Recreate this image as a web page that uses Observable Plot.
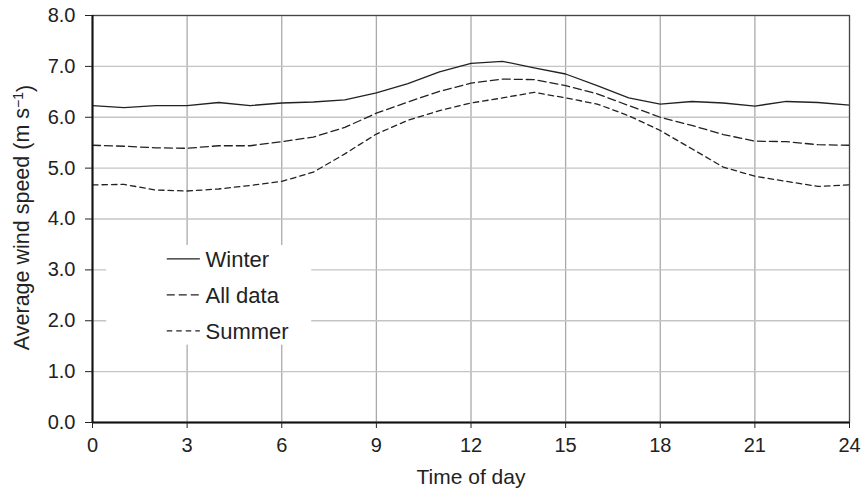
<!DOCTYPE html>
<html>
<head>
<meta charset="utf-8">
<script src="https://cdn.jsdelivr.net/npm/d3@7"></script>
<script src="https://cdn.jsdelivr.net/npm/@observablehq/plot@0.6"></script>
<style>
body { margin: 0; background: #fff; }
svg { font-family: "Liberation Sans", Arial, sans-serif; }
</style>
</head>
<body>
<div id="chart"></div>
<script>
const hours = d3.range(0, 25);
const winter = [6.23, 6.19, 6.23, 6.23, 6.29, 6.23, 6.28, 6.30, 6.34, 6.48, 6.66, 6.89, 7.06, 7.10, 6.97, 6.85, 6.62, 6.38, 6.26, 6.31, 6.28, 6.22, 6.31, 6.29, 6.24];
const allData = [5.45, 5.43, 5.40, 5.39, 5.44, 5.44, 5.52, 5.61, 5.80, 6.08, 6.30, 6.51, 6.67, 6.75, 6.74, 6.62, 6.46, 6.23, 6.00, 5.84, 5.66, 5.53, 5.52, 5.46, 5.45];
const summer = [4.67, 4.68, 4.57, 4.55, 4.59, 4.66, 4.74, 4.92, 5.28, 5.67, 5.94, 6.13, 6.28, 6.38, 6.49, 6.38, 6.26, 6.03, 5.74, 5.38, 5.02, 4.84, 4.74, 4.64, 4.67];
const seriesNames = ["Winter", "All data", "Summer"];
const xTicks = [0, 3, 6, 9, 12, 15, 18, 21, 24];
const yTicks = [0, 1, 2, 3, 4, 5, 6, 7, 8];

const dashes = {"Winter": null, "All data": "8,4", "Summer": "5.5,4"};
const series = [winter, allData, summer];
const rows = (vals, name) => hours.map((h, i) => ({hour: h, speed: vals[i], series: name}));

const plot = Plot.plot({
  width: 866,
  height: 494,
  marginLeft: 92,
  marginRight: 17,
  marginTop: 15,
  marginBottom: 72,
  style: {fontSize: "20px", fontFamily: "'Liberation Sans', Arial, sans-serif", color: "#222"},
  x: {domain: [0, 24]},
  y: {domain: [0, 8]},
  marks: [
    Plot.gridX(xTicks, {stroke: "#aaa", strokeOpacity: 1, strokeWidth: 1.3}),
    Plot.gridY(yTicks, {stroke: "#c4c4c4", strokeOpacity: 1, strokeWidth: 1.3}),
    ...series.map((vals, k) => Plot.line(rows(vals, seriesNames[k]), {
      x: "hour", y: "speed", stroke: "#222", strokeWidth: 1.3,
      strokeDasharray: dashes[seriesNames[k]]
    })),
    Plot.frame({stroke: "#444", strokeWidth: 1.2}),
    Plot.ruleX([0], {stroke: "#111", strokeWidth: 2}),
    Plot.ruleY([0], {stroke: "#111", strokeWidth: 2}),
    Plot.axisX({ticks: xTicks, tickSize: 6, tickPadding: 9, fontSize: 20, label: null}),
    Plot.axisX({ticks: [], label: "Time of day", fontSize: 21, labelAnchor: "center", labelOffset: 61, labelArrow: "none"}),
    Plot.axisY({ticks: yTicks, tickSize: 7, tickPadding: 10, fontSize: 20, tickFormat: d3.format(".1f"), label: null})
  ]
});

// Legend overlay with a white box, positioned via the scales
const xs = plot.scale("x"), ys = plot.scale("y");
const svg = d3.select(plot);
const g = svg.append("g").attr("text-anchor", "start");
const bx0 = xs.apply(0.45), bx1 = xs.apply(6.95);
const by0 = ys.apply(3.48), by1 = ys.apply(1.52);
g.append("rect").attr("x", bx0).attr("y", by0).attr("width", bx1 - bx0).attr("height", by1 - by0).attr("fill", "#fff");
seriesNames.forEach((name, i) => {
  const cy = by0 + 14 + i * 36;
  g.append("line").attr("x1", xs.apply(2.37)).attr("x2", xs.apply(3.42)).attr("y1", cy).attr("y2", cy)
    .attr("stroke", "#222").attr("stroke-width", 1.3).attr("stroke-dasharray", dashes[name]);
  g.append("text").attr("x", xs.apply(3.6)).attr("y", cy).attr("dy", "0.36em")
    .attr("text-anchor", "start").attr("font-size", 22).attr("fill", "#222").text(name);
});
// Y axis title
svg.append("text")
  .attr("transform", `translate(29,${(ys.apply(0) + ys.apply(8)) / 2 - 1}) rotate(-90)`)
  .attr("text-anchor", "middle").attr("font-size", 21.5).attr("fill", "#222")
  .html('Average wind speed (m s<tspan dy="-0.45em" font-size="14">−1</tspan><tspan dy="0.45em">)</tspan>');

document.getElementById("chart").append(plot);
</script>
</body>
</html>
